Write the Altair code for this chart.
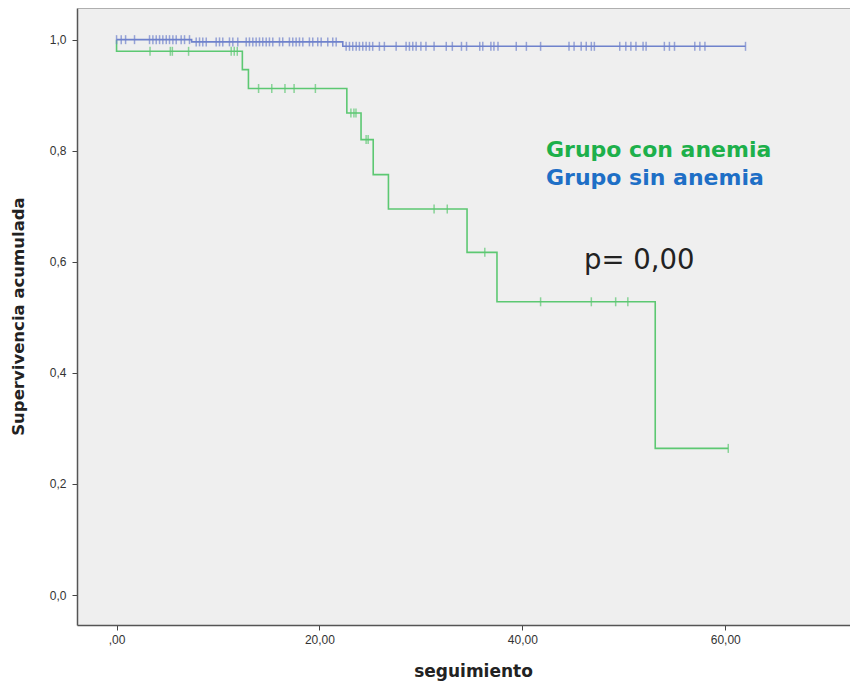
import altair as alt
import pandas as pd

# ---- data ----
# Kaplan-Meier steps: (time, survival after that time)
green_step_t = [0.0, 0.0, 12.4, 13.0, 22.7, 24.1, 25.3, 26.8, 34.55, 37.5, 53.1, 60.3]
green_step_s = [1.0, 0.979, 0.946, 0.912, 0.868, 0.820, 0.757, 0.695, 0.617, 0.528, 0.264, 0.264]
green_censor_t = [3.3, 5.3, 5.5, 7.1, 11.3, 11.6, 11.9, 14.0, 15.3, 16.6, 17.5, 19.6,
                  23.1, 23.4, 23.6, 24.6, 24.8, 31.3, 32.6, 36.3, 41.8, 46.8, 49.2, 50.4, 60.3]

blue_step_t = [0.0, 7.4, 22.3, 62.0]
blue_step_s = [1.0, 0.996, 0.988, 0.988]
blue_censor_t = [0.0, 0.46, 0.89, 1.77, 3.25, 3.58, 3.91, 4.24, 4.56, 4.90, 5.22, 5.55, 5.88,
                 6.37, 6.70, 7.19, 7.85, 8.18, 8.50, 8.84, 9.82, 10.15, 10.47, 11.13, 11.46,
                 11.95, 12.78, 13.10, 13.43, 13.76, 14.09, 14.41, 14.75, 15.07, 15.40, 16.06,
                 16.38, 17.04, 17.37, 17.70, 18.03, 18.36, 19.01, 19.34, 19.83, 20.17, 20.82,
                 21.31, 21.65, 22.63, 22.96, 23.28, 23.62, 23.94, 24.27, 24.60, 24.93, 25.25,
                 25.91, 26.40, 27.56, 28.54, 28.87, 29.2, 29.53, 30.0, 30.5, 31.3, 32.5, 33.1,
                 34.0, 34.5, 35.8, 36.1, 36.9, 37.2, 37.6, 39.4, 40.4, 41.8, 44.6, 45.1, 45.8,
                 46.3, 46.8, 47.1, 49.6, 50.2, 50.7, 51.2, 51.9, 52.2, 54.0, 54.5, 55.0, 57.0,
                 57.5, 58.0, 62.0]

x_ticks = [0, 20, 40, 60]
y_ticks = [0.0, 0.2, 0.4, 0.6, 0.8, 1.0]
group_names = ["Grupo con anemia", "Grupo sin anemia"]


def level_at(t, ts, ss):
    val = ss[0]
    for tt, s in zip(ts, ss):
        if tt <= t:
            val = s
    return val


steps = []
for i, (t, s) in enumerate(zip(green_step_t, green_step_s)):
    steps.append({"g": group_names[0], "t": t, "s": s, "i": i})
for i, (t, s) in enumerate(zip(blue_step_t, blue_step_s)):
    steps.append({"g": group_names[1], "t": t, "s": s, "i": i})
steps = pd.DataFrame(steps)

cens = []
for t in green_censor_t:
    cens.append({"g": group_names[0], "t": t, "s": level_at(t, green_step_t, green_step_s)})
for t in blue_censor_t:
    cens.append({"g": group_names[1], "t": t, "s": level_at(t, blue_step_t, blue_step_s)})
cens = pd.DataFrame(cens)

xs = alt.Scale(domain=[-3.9, 72.3], nice=False, zero=False)
ys = alt.Scale(domain=[-0.054, 1.057], nice=False, zero=False)

line_colors = alt.Scale(domain=group_names, range=["#5cc872", "#6f82cc"])
mark_colors = alt.Scale(domain=group_names, range=["#34b650", "#3a52b4"])

x_axis = alt.Axis(
    values=x_ticks, grid=False, title="seguimiento",
    labelExpr="datum.value == 0 ? ',00' : replace(format(datum.value, '.2f'), '.', ',')",
    labelFont="Liberation Sans", labelFontSize=12, labelColor="#333",
    labelPadding=4, tickSize=5, tickColor="#444", domainColor="#555", domainWidth=1.5,
    titleFont="DejaVu Sans", titleFontWeight="bold", titleFontSize=17, titleColor="#222",
    titleX=396, titleY=46, titleBaseline="middle", titleAlign="center",
)
y_axis = alt.Axis(
    values=y_ticks, grid=False, title="Supervivencia acumulada",
    labelExpr="replace(format(datum.value, '.1f'), '.', ',')",
    labelFont="Liberation Sans", labelFontSize=12, labelColor="#333",
    labelPadding=6, tickSize=5, tickColor="#444", domainColor="#555", domainWidth=1.5,
    titleFont="DejaVu Sans", titleFontWeight="bold", titleFontSize=16.5, titleColor="#222",
    titleX=-59, titleY=308, titleAngle=-90, titleBaseline="middle", titleAlign="center",
)

lines = alt.Chart(steps).mark_line(interpolate="step-after", strokeWidth=1.6).encode(
    x=alt.X("t:Q", scale=xs, axis=x_axis),
    y=alt.Y("s:Q", scale=ys, axis=y_axis),
    color=alt.Color("g:N", scale=line_colors, legend=None),
    detail="g:N",
    order="i:Q",
)

ticks = alt.Chart(cens).mark_tick(orient="vertical", size=9, thickness=1.5).encode(
    x=alt.X("t:Q", scale=xs),
    y=alt.Y("s:Q", scale=ys),
    color=alt.Color("g:N", scale=mark_colors, legend=None),
)

top_border = alt.Chart(pd.DataFrame({"k": [0]})).mark_rule(
    color="#9a9a9a", strokeWidth=1.5
).encode(y=alt.value(0), x=alt.value(0), x2=alt.value(773))

leg1 = alt.Chart(pd.DataFrame({"txt": [group_names[0]]})).mark_text(
    align="left", baseline="middle", font="DejaVu Sans", fontWeight="bold",
    fontSize=22, color="#1db04b"
).encode(text="txt:N", x=alt.value(469), y=alt.value(142))

leg2 = alt.Chart(pd.DataFrame({"txt": [group_names[1]]})).mark_text(
    align="left", baseline="middle", font="DejaVu Sans", fontWeight="bold",
    fontSize=22, color="#1e6fc6"
).encode(text="txt:N", x=alt.value(469), y=alt.value(170))

pval = alt.Chart(pd.DataFrame({"txt": ["p= 0,00"]})).mark_text(
    align="left", baseline="middle", font="DejaVu Sans", fontSize=27.5, color="#222"
).encode(text="txt:N", x=alt.value(507), y=alt.value(253))

chart = alt.layer(top_border, lines, ticks, leg1, leg2, pval).properties(
    width=773, height=617,
    autosize=alt.AutoSizeParams(type="none"),
    padding={"left": 69, "top": 0, "right": 0, "bottom": 60},
    background="white",
).configure_view(fill="#efefef", strokeWidth=0)

chart.save("out.html", embed_options={"renderer": "svg", "actions": False})
